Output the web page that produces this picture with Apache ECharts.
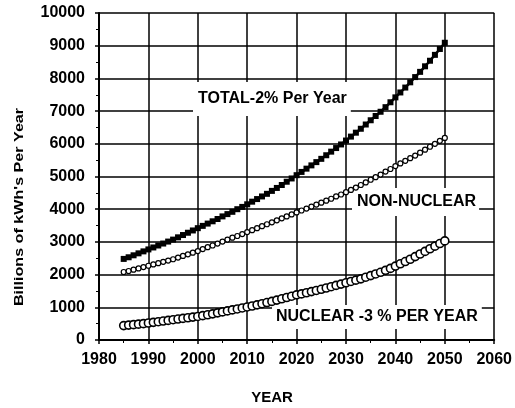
<!DOCTYPE html>
<html>
<head>
<meta charset="utf-8">
<script src="https://cdn.jsdelivr.net/npm/echarts@6/dist/echarts.min.js"></script>
<style>
  html, body { margin: 0; padding: 0; background: #fff; }
  #chart { width: 515px; height: 408px; }
</style>
</head>
<body>
<div id="chart"></div>
<script>
// values, one marker per year
const years = [
  1985, 1986, 1987, 1988, 1989, 1990, 1991, 1992, 1993, 1994,
  1995, 1996, 1997, 1998, 1999, 2000, 2001, 2002, 2003, 2004,
  2005, 2006, 2007, 2008, 2009, 2010, 2011, 2012, 2013, 2014,
  2015, 2016, 2017, 2018, 2019, 2020, 2021, 2022, 2023, 2024,
  2025, 2026, 2027, 2028, 2029, 2030, 2031, 2032, 2033, 2034,
  2035, 2036, 2037, 2038, 2039, 2040, 2041, 2042, 2043, 2044,
  2045, 2046, 2047, 2048, 2049, 2050
]
const total = [
  2480, 2530, 2590, 2650, 2710, 2770, 2830, 2890, 2950, 3010,
  3070, 3140, 3210, 3280, 3350, 3420, 3490, 3560, 3630, 3700,
  3780, 3850, 3920, 4000, 4070, 4150, 4230, 4310, 4390, 4470,
  4560, 4650, 4740, 4840, 4940, 5040, 5140, 5240, 5340, 5440,
  5540, 5650, 5760, 5870, 5980, 6100, 6220, 6340, 6460, 6590,
  6720, 6850, 6980, 7120, 7270, 7420, 7570, 7720, 7880, 8040,
  8200, 8370, 8540, 8720, 8900, 9090
]
const nonNuclear = [
  2080, 2110, 2150, 2190, 2230, 2270, 2310, 2350, 2390, 2430,
  2470, 2520, 2570, 2620, 2670, 2720, 2780, 2840, 2890, 2950,
  3010, 3070, 3130, 3180, 3240, 3300, 3360, 3420, 3480, 3540,
  3600, 3660, 3720, 3780, 3840, 3900, 3960, 4020, 4080, 4140,
  4200, 4260, 4320, 4390, 4450, 4520, 4590, 4660, 4740, 4820,
  4900, 4980, 5060, 5150, 5230, 5320, 5400, 5480, 5560, 5640,
  5730, 5820, 5910, 6000, 6090, 6180
]
const nuclear = [
  440, 455, 470, 485, 500, 520, 540, 560, 580, 600,
  620, 640, 660, 680, 700, 720, 745, 770, 800, 830,
  860, 890, 920, 950, 980, 1010, 1040, 1075, 1110, 1145,
  1180, 1220, 1260, 1300, 1340, 1380, 1410, 1445, 1480, 1515,
  1550, 1590, 1630, 1670, 1710, 1750, 1790, 1830, 1870, 1920,
  1970, 2020, 2070, 2130, 2190, 2260, 2330, 2400, 2470, 2550,
  2630, 2710, 2790, 2870, 2950, 3030
]

const FONT = '"Liberation Sans", Arial, sans-serif'
const pairs = vals => years.map((y, i) => [y, vals[i]])

const axisCommon = {
  axisLine: { show: true, lineStyle: { color: '#000', width: 2 } },
  axisTick: { show: true, length: 4, lineStyle: { color: '#000', width: 1.5 } },
  minorTick: { show: true, splitNumber: 2, length: 3, lineStyle: { color: '#000', width: 1 } },
  splitLine: { show: true, lineStyle: { color: '#000', width: 1.5 } },
  axisLabel: { color: '#000', fontWeight: 'bold', fontSize: 16, fontFamily: FONT, formatter: v => String(v) }
}

const chart = echarts.init(document.getElementById('chart'))
chart.setOption({
  animation: false,
  backgroundColor: '#fff',
  grid: { left: 99, right: 19, top: 13, bottom: 68 },
  xAxis: {
    type: 'value', min: 1980, max: 2060, interval: 10,
    ...axisCommon,
    axisLabel: { ...axisCommon.axisLabel, margin: 12 }
  },
  yAxis: {
    type: 'value', min: 0, max: 10000, interval: 1000,
    ...axisCommon,
    axisLabel: { ...axisCommon.axisLabel, margin: 14 }
  },
  series: [
    {
      name: 'TOTAL', type: 'line', data: pairs(total),
      symbol: 'rect', symbolSize: 6, showAllSymbol: true,
      lineStyle: { color: '#000', width: 2.5 },
      itemStyle: { color: '#000' }
    },
    {
      name: 'NON-NUCLEAR', type: 'line', data: pairs(nonNuclear),
      symbol: 'circle', symbolSize: 5, showAllSymbol: true,
      lineStyle: { color: '#000', width: 1 },
      itemStyle: { color: '#fff', borderColor: '#000', borderWidth: 1.2 }
    },
    {
      name: 'NUCLEAR', type: 'line', data: pairs(nuclear),
      symbol: 'circle', symbolSize: 8, showAllSymbol: true,
      lineStyle: { color: '#000', width: 1 },
      itemStyle: { color: '#fff', borderColor: '#000', borderWidth: 1.6 }
    }
  ],
  graphic: [
    {
      type: 'text', x: 19, y: 207, rotation: Math.PI / 2, scaleX: 1.24, z: 1,
      style: { text: "Billions of kWh's Per Year", font: 'bold 13px ' + FONT, fill: '#000', align: 'center', verticalAlign: 'middle' }
    },
    {
      type: 'text', x: 272, y: 398, z: 1,
      style: { text: 'YEAR', font: 'bold 15px ' + FONT, fill: '#000', align: 'center', verticalAlign: 'middle' }
    },
    {
      type: 'text', x: 193, y: 82, z: 1,
      style: { text: 'TOTAL-2% Per Year', font: 'bold 16px ' + FONT, fill: '#000', backgroundColor: '#fff', padding: [9, 4, 9, 5] }
    },
    {
      type: 'text', x: 352, y: 188, z: 1,
      style: { text: 'NON-NUCLEAR', font: 'bold 16px ' + FONT, fill: '#000', backgroundColor: '#fff', padding: [6, 3, 6, 5] }
    },
    {
      type: 'text', x: 272, y: 305, z: 1,
      style: { text: 'NUCLEAR -3 % PER YEAR', font: 'bold 16px ' + FONT, fill: '#000', backgroundColor: '#fff', padding: [4, 4, 4, 4] }
    }
  ]
})
</script>
</body>
</html>
